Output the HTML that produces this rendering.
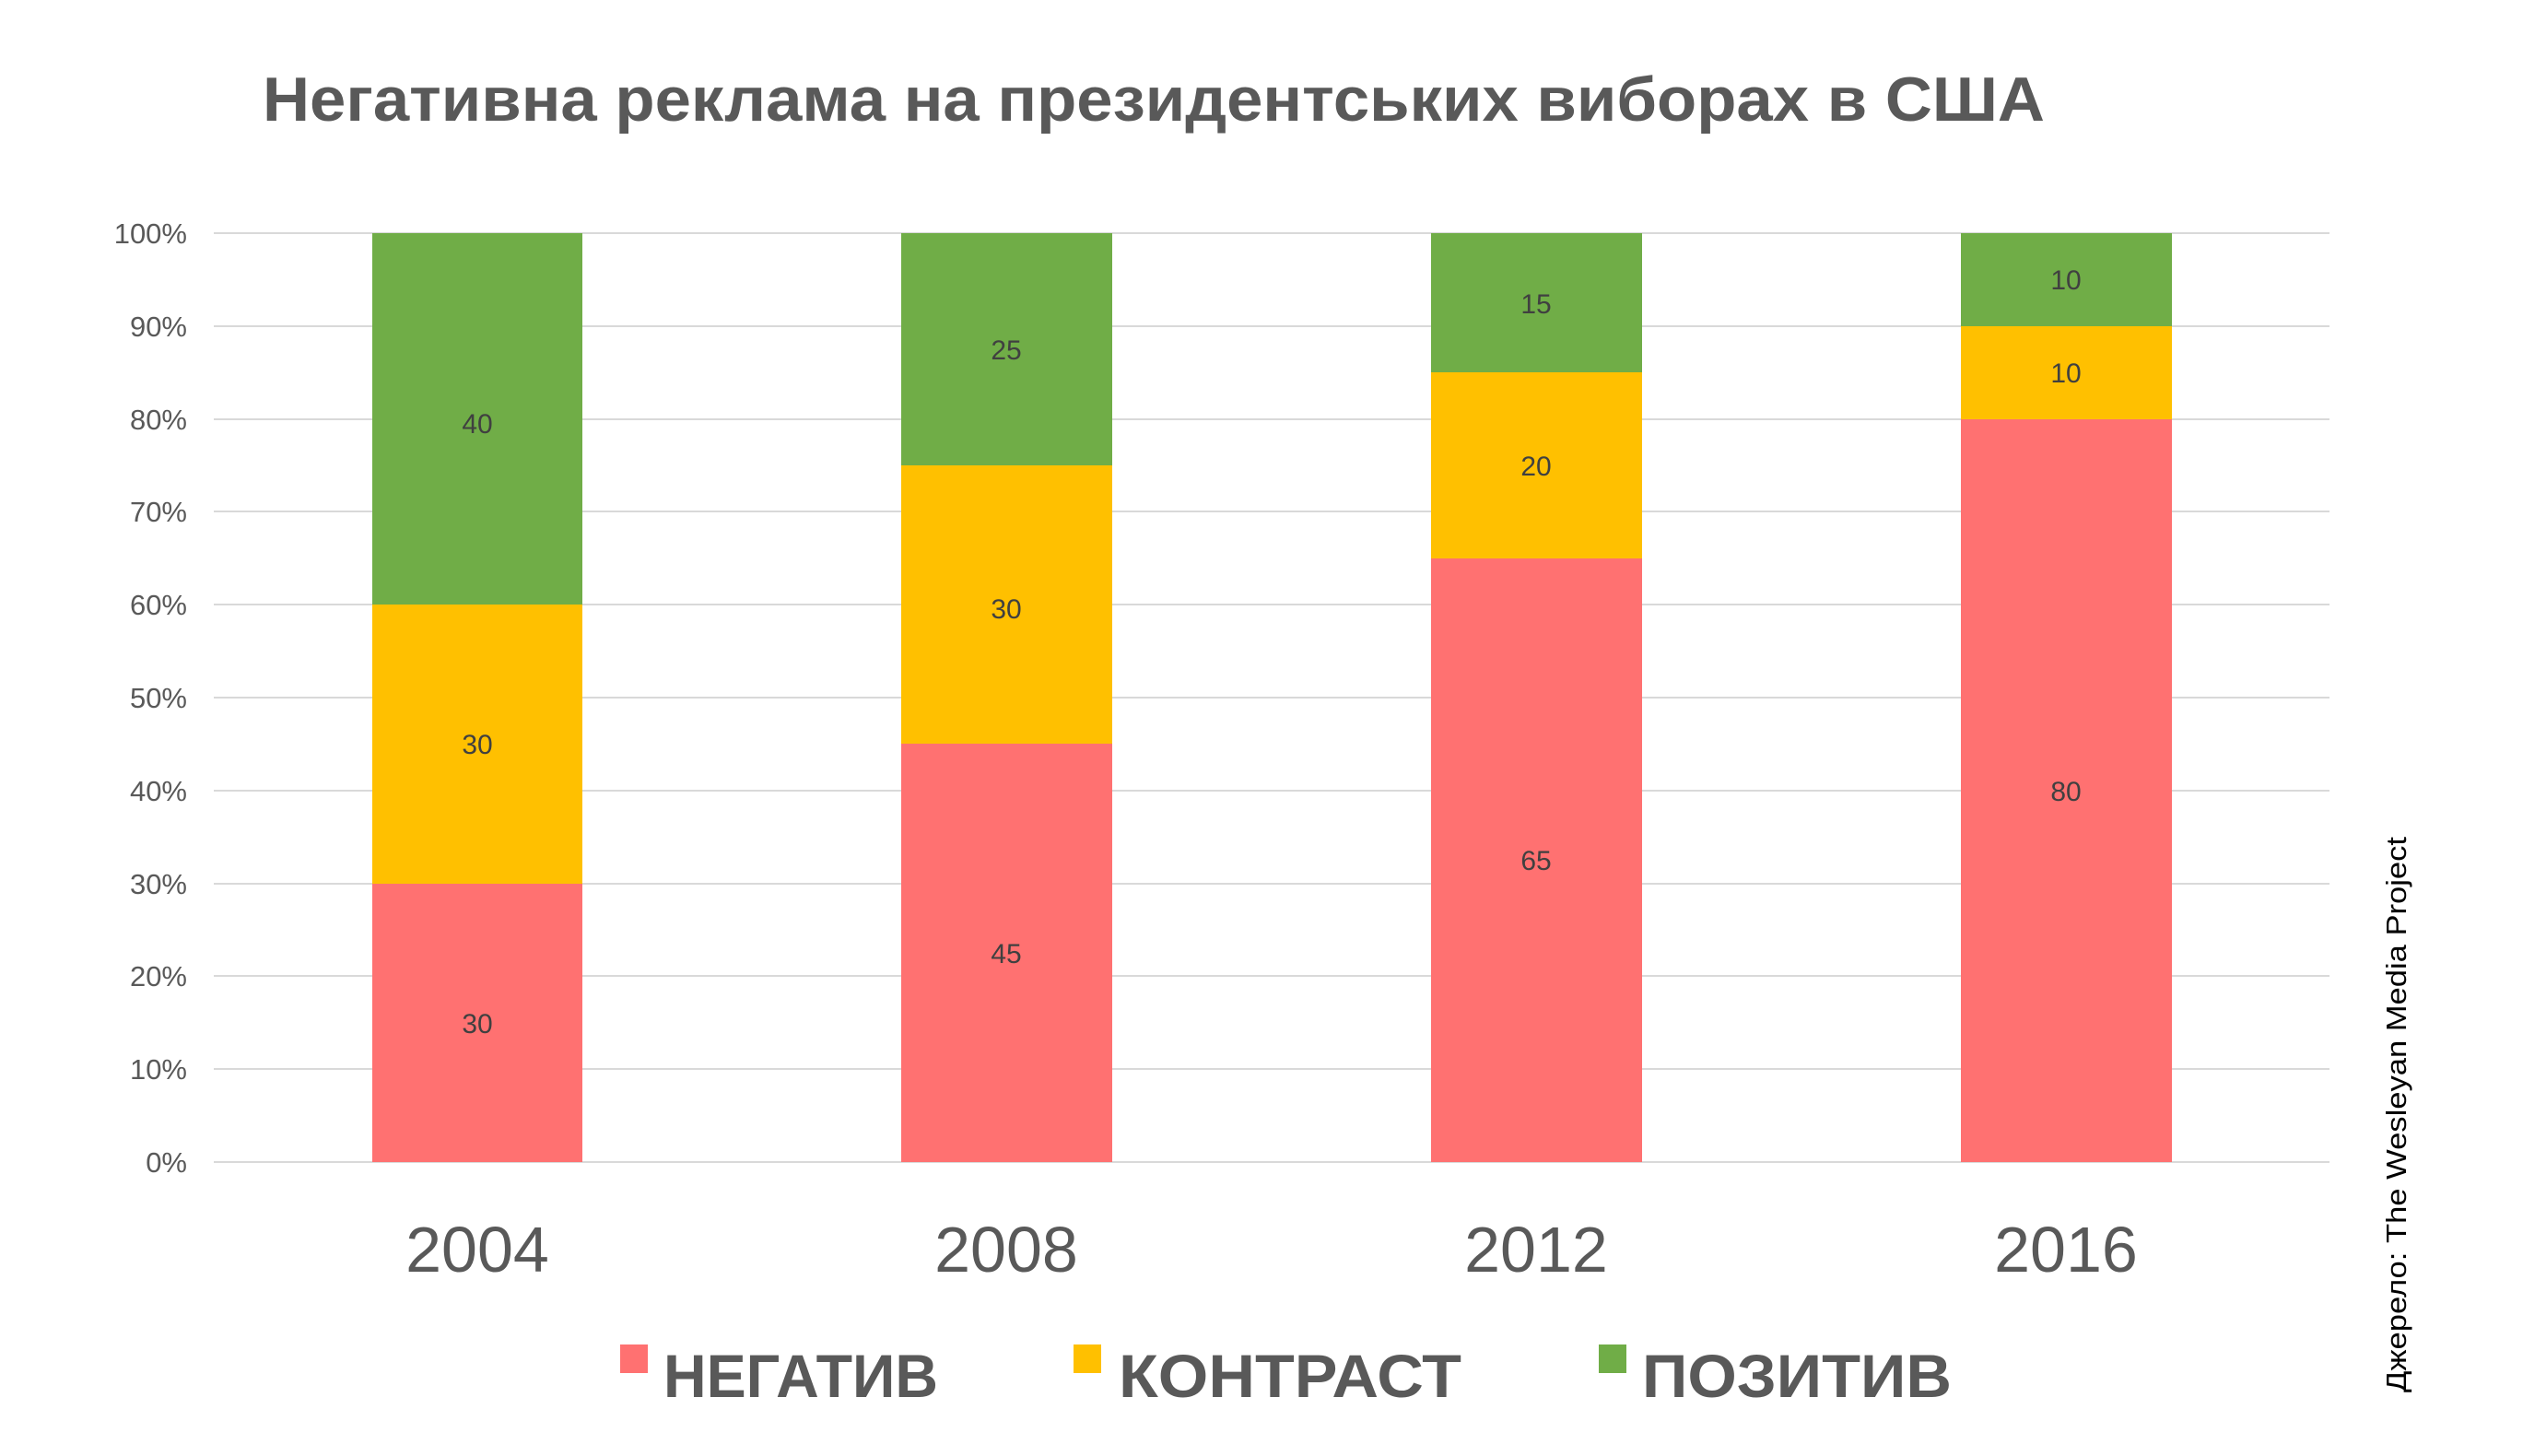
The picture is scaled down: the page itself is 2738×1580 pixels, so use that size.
<!DOCTYPE html>
<html><head><meta charset="utf-8"><style>
html,body{margin:0;padding:0;background:#fff}
svg{display:block}
</style></head><body>
<svg width="2738" height="1580" viewBox="0 0 2738 1580" xmlns="http://www.w3.org/2000/svg" font-family="'Liberation Sans', 'Noto Sans CJK SC', sans-serif">
<rect width="2738" height="1580" fill="#fff"/>
<text x="285" y="131" font-size="68" font-weight="bold" fill="#595959" textLength="1934" lengthAdjust="spacingAndGlyphs">Негативна реклама на президентських виборах в США</text>
<g stroke="#d9d9d9" stroke-width="2">
<line x1="232" x2="2528" y1="253" y2="253"/>
<line x1="232" x2="2528" y1="354" y2="354"/>
<line x1="232" x2="2528" y1="455" y2="455"/>
<line x1="232" x2="2528" y1="555" y2="555"/>
<line x1="232" x2="2528" y1="656" y2="656"/>
<line x1="232" x2="2528" y1="757" y2="757"/>
<line x1="232" x2="2528" y1="858" y2="858"/>
<line x1="232" x2="2528" y1="959" y2="959"/>
<line x1="232" x2="2528" y1="1059" y2="1059"/>
<line x1="232" x2="2528" y1="1160" y2="1160"/>
<line x1="232" x2="2528" y1="1261" y2="1261"/>
</g>
<g font-size="31" fill="#595959" text-anchor="end">
<text x="203" y="264">100%</text><text x="203" y="365">90%</text><text x="203" y="466">80%</text>
<text x="203" y="566">70%</text><text x="203" y="667">60%</text><text x="203" y="768">50%</text>
<text x="203" y="869">40%</text><text x="203" y="970">30%</text><text x="203" y="1070">20%</text>
<text x="203" y="1171">10%</text><text x="203" y="1272">0%</text>
</g>
<rect x="404" y="253" width="228" height="403" fill="#70ad47"/>
<rect x="404" y="656" width="228" height="303" fill="#ffc000"/>
<rect x="404" y="959" width="228" height="302" fill="#ff7171"/>
<rect x="978" y="253" width="229" height="252" fill="#70ad47"/>
<rect x="978" y="505" width="229" height="302" fill="#ffc000"/>
<rect x="978" y="807" width="229" height="454" fill="#ff7171"/>
<rect x="1553" y="253" width="229" height="151" fill="#70ad47"/>
<rect x="1553" y="404" width="229" height="202" fill="#ffc000"/>
<rect x="1553" y="606" width="229" height="655" fill="#ff7171"/>
<rect x="2128" y="253" width="229" height="101" fill="#70ad47"/>
<rect x="2128" y="354" width="229" height="101" fill="#ffc000"/>
<rect x="2128" y="455" width="229" height="806" fill="#ff7171"/>
<g font-size="30" fill="#404040" text-anchor="middle">
<text x="518" y="470">40</text><text x="518" y="818">30</text><text x="518" y="1121">30</text>
<text x="1092" y="390">25</text><text x="1092" y="671">30</text><text x="1092" y="1045">45</text>
<text x="1667" y="340">15</text><text x="1667" y="516">20</text><text x="1667" y="944">65</text>
<text x="2242" y="314">10</text><text x="2242" y="415">10</text><text x="2242" y="869">80</text>
</g>
<g font-size="70" fill="#595959" text-anchor="middle">
<text x="518" y="1380">2004</text><text x="1092" y="1380">2008</text>
<text x="1667" y="1380">2012</text><text x="2242" y="1380">2016</text>
</g>
<rect x="673" y="1459" width="30" height="31" fill="#ff7171"/>
<rect x="1165" y="1459" width="30" height="31" fill="#ffc000"/>
<rect x="1735" y="1459" width="30" height="31" fill="#70ad47"/>
<g font-size="66" font-weight="bold" fill="#595959">
<text x="720" y="1516" textLength="298" lengthAdjust="spacingAndGlyphs">НЕГАТИВ</text>
<text x="1214" y="1516" textLength="372" lengthAdjust="spacingAndGlyphs">КОНТРАСТ</text>
<text x="1782" y="1516" textLength="336" lengthAdjust="spacingAndGlyphs">ПОЗИТИВ</text>
</g>
<text transform="translate(2611,1511) rotate(-90)" font-size="31" fill="#000" textLength="603" lengthAdjust="spacingAndGlyphs">Джерело: The Wesleyan Media Project</text>
</svg>
</body></html>
